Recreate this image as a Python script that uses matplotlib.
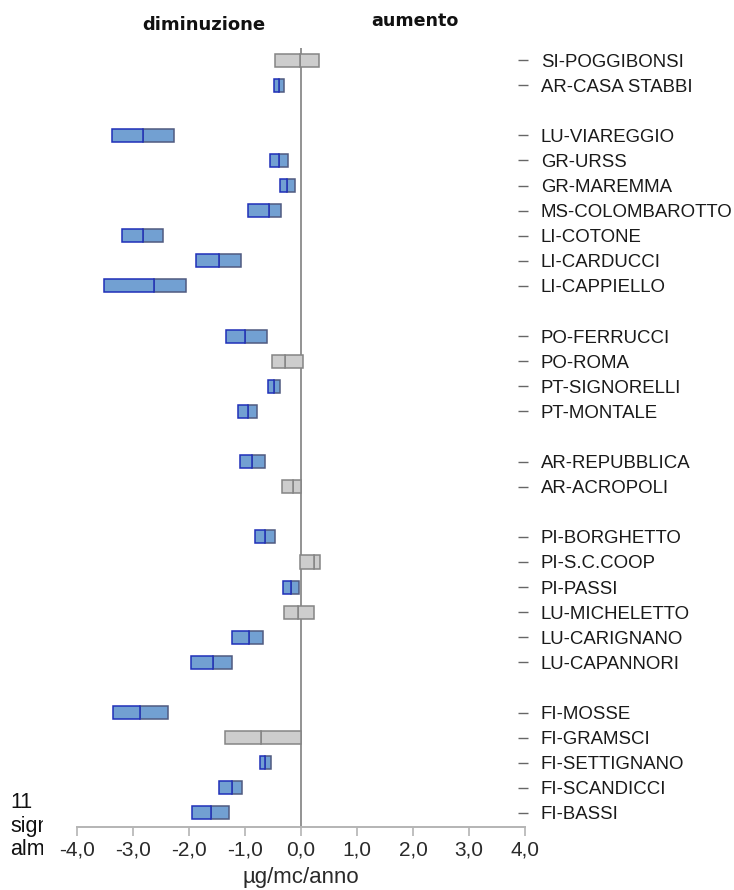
import numpy as np
import matplotlib
matplotlib.use("Agg")
import matplotlib.pyplot as plt
from matplotlib.ticker import FuncFormatter
from matplotlib.transforms import Bbox, TransformedBbox

plt.rcParams["font.family"] = ["Liberation Sans", "DejaVu Sans"]

# ── dati (µg/mc/anno): estremo inferiore, mediana, estremo superiore ─────────
STATIONS = ["SI-POGGIBONSI", "AR-CASA STABBI",
            "LU-VIAREGGIO", "GR-URSS", "GR-MAREMMA", "MS-COLOMBAROTTO",
            "LI-COTONE", "LI-CARDUCCI", "LI-CAPPIELLO",
            "PO-FERRUCCI", "PO-ROMA", "PT-SIGNORELLI", "PT-MONTALE",
            "AR-REPUBBLICA", "AR-ACROPOLI",
            "PI-BORGHETTO", "PI-S.C.COOP", "PI-PASSI", "LU-MICHELETTO",
            "LU-CARIGNANO", "LU-CAPANNORI",
            "FI-MOSSE", "FI-GRAMSCI", "FI-SETTIGNANO", "FI-SCANDICCI", "FI-BASSI"]
GROUP = [0, 0,
         1, 1, 1, 1, 1, 1, 1,
         2, 2, 2, 2,
         3, 3,
         4, 4, 4, 4, 4, 4,
         5, 5, 5, 5, 5]
LOW  = [-0.46, -0.49,
        -3.38, -0.56, -0.38, -0.95, -3.20, -1.88, -3.51,
        -1.34, -0.52, -0.59, -1.12,
        -1.09, -0.34,
        -0.83, -0.02, -0.33, -0.31, -1.24, -1.97,
        -3.36, -1.35, -0.73, -1.47, -1.94]
MED  = [-0.01, -0.39,
        -2.83, -0.40, -0.25, -0.58, -2.83, -1.46, -2.63,
        -1.00, -0.28, -0.48, -0.95,
        -0.88, -0.15,
        -0.64, 0.24, -0.17, -0.05, -0.92, -1.57,
        -2.87, -0.72, -0.64, -1.24, -1.60]
HIGH = [0.32, -0.30,
        -2.26, -0.24, -0.11, -0.35, -2.47, -1.07, -2.06,
        -0.61, 0.03, -0.38, -0.79,
        -0.64, 0.00,
        -0.46, 0.34, -0.04, 0.24, -0.67, -1.24,
        -2.37, 0.00, -0.54, -1.06, -1.28]
SIGNIF = [False, True,
          True, True, True, True, True, True, True,
          True, False, True, True,
          True, False,
          True, False, True, False, True, True,
          True, False, True, True, True]
XTICKS = [-4, -3, -2, -1, 0, 1, 2, 3, 4]

# ── posizioni: una riga vuota tra i gruppi ──────────────────────────────────
ypos = []
y = 0
for i, g in enumerate(GROUP):
    if i > 0:
        y += 1
        if g != GROUP[i - 1]:
            y += 1
    ypos.append(y)
ypos = np.array(ypos, dtype=float)

low, med, high = np.array(LOW), np.array(MED), np.array(HIGH)
sig = np.array(SIGNIF)

BLUE_FILL, BLUE_EDGE, BLUE_EDGE2 = "#72a0d2", "#1f2fb8", "#4f5a80"
GREY_FILL, GREY_EDGE = "#cdcdcd", "#858585"

fig = plt.figure(figsize=(7.34, 8.90), dpi=100)
ax = fig.add_axes([77 / 734, 1 - 827 / 890, 448 / 734, (827 - 48) / 890])

H = 0.52
lw = 1.1
# intervalli significativi (blu)
ax.barh(ypos[sig], high[sig] - med[sig], left=med[sig], height=H,
        color=BLUE_FILL, edgecolor=BLUE_EDGE2, linewidth=lw, zorder=3)
ax.barh(ypos[sig], med[sig] - low[sig], left=low[sig], height=H,
        color=BLUE_FILL, edgecolor=BLUE_EDGE, linewidth=lw, zorder=4)
# intervalli non significativi (grigio)
ax.barh(ypos[~sig], high[~sig] - med[~sig], left=med[~sig], height=H,
        color=GREY_FILL, edgecolor=GREY_EDGE, linewidth=lw, zorder=3)
ax.barh(ypos[~sig], med[~sig] - low[~sig], left=low[~sig], height=H,
        color=GREY_FILL, edgecolor=GREY_EDGE, linewidth=lw, zorder=4)

ax.axvline(0, color="#8a8a8a", linewidth=1.3, zorder=2)

ax.set_xlim(-4, 4)
ax.set_ylim(ypos.max() + 0.56, -0.48)

for s in ["top", "left", "right"]:
    ax.spines[s].set_visible(False)
ax.spines["bottom"].set_color("#b4b4b4")
ax.spines["bottom"].set_linewidth(1.4)

ax.set_xticks(XTICKS)
ax.xaxis.set_major_formatter(FuncFormatter(lambda v, p: f"{v:.1f}".replace(".", ",")))
ax.tick_params(axis="x", direction="out", length=6.5, width=1.2, color="#b4b4b4",
               labelsize=15, labelcolor="#2a2a2a", pad=3.5)
ax.set_xlabel("µg/mc/anno", fontsize=16, color="#2a2a2a", labelpad=5)

# etichette stazioni a destra
ax.yaxis.tick_right()
ax.spines["right"].set_position(("axes", (518 - 77) / 448))
ax.set_yticks(ypos)
ax.set_yticklabels(STATIONS)
ax.tick_params(axis="y", direction="out", length=7.5, width=1.0, color="#666666",
               labelsize=13.4, labelcolor="#1a1a1a", pad=9)

fig.text(204 / 734, 1 - 25 / 890, "diminuzione", ha="center", va="center",
         fontsize=13, fontweight="bold", family="DejaVu Sans", color="#111111")
fig.text(415 / 734, 1 - 21 / 890, "aumento", ha="center", va="center",
         fontsize=12.6, fontweight="bold", family="DejaVu Sans", color="#111111")

# nota in basso a sinistra, tagliata dal bordo del riquadro
clip = TransformedBbox(Bbox([[0, 0], [43 / 734, 1]]), fig.transFigure)
for txt, yb in [("11", 808), ("significative", 832), ("almeno", 855)]:
    t = fig.text(10 / 734, 1 - yb / 890, txt, ha="left", va="baseline",
                 fontsize=15.5, color="#111111")
    t.set_clip_box(clip)
    t.set_clip_on(True)

fig.savefig("out.png", dpi=100)
